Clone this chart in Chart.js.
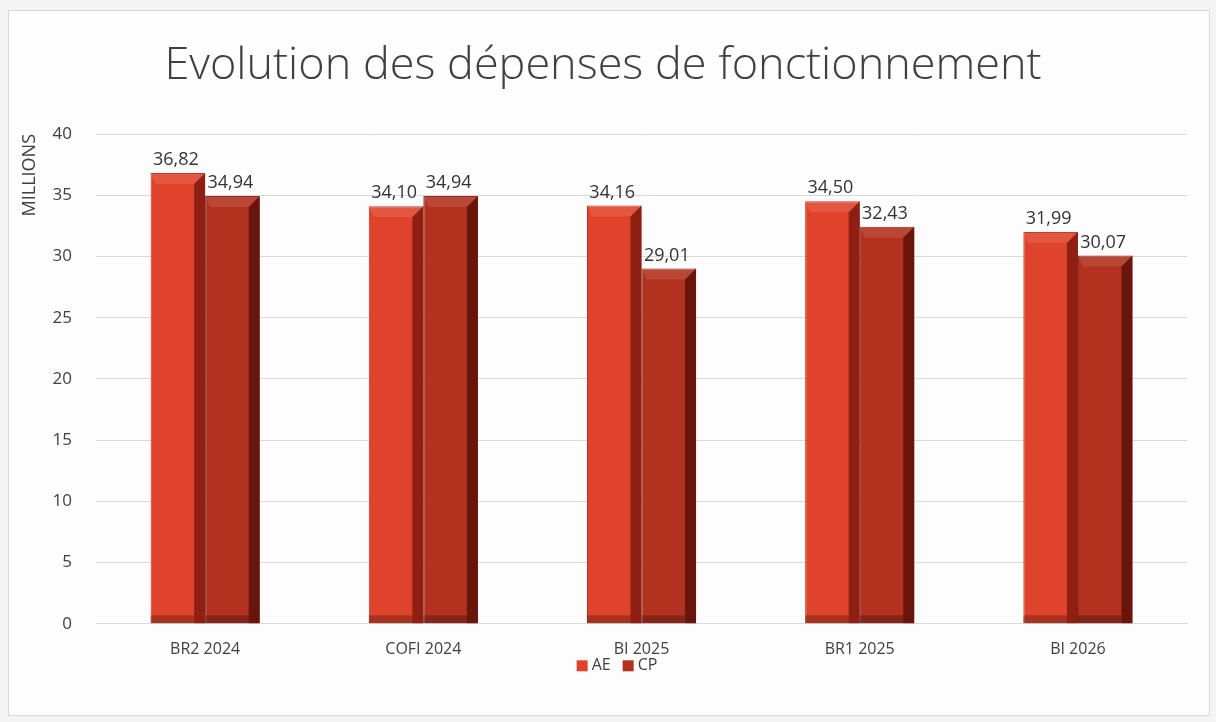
<!DOCTYPE html>
<html>
<head>
<meta charset="utf-8">
<script src="https://cdn.jsdelivr.net/npm/chart.js@4/dist/chart.umd.min.js"></script>
<style>
  html, body { margin:0; padding:0; background:#f4f4f4; }
  #wrap { position:absolute; left:8px; top:10px; width:1200px; height:704px; background:#fdfdfd; border:1px solid #d8d8d8; }
</style>
</head>
<body>
<div id="wrap"><canvas id="chart" width="1200" height="704"></canvas></div>
<script>
// data
const categories = ['BR2 2024', 'COFI 2024', 'BI 2025', 'BR1 2025', 'BI 2026'];
const aeValues = [36.82, 34.10, 34.16, 34.50, 31.99];
const cpValues = [34.94, 34.94, 29.01, 32.43, 30.07];
const yTicks = [0, 5, 10, 15, 20, 25, 30, 35, 40];

const aeColor = '#e0432b';
const cpColor = '#b3311f';
const aeSide = '#8e1f12';
const cpSide = '#6a150c';
const font = '"Open Sans", sans-serif';

const fmt = v => v.toFixed(2).replace('.', ',');

// fake 3D look: darker right side + bottom strip on each bar
const bevel = {
  id: 'bevel',
  afterDatasetsDraw(chart){
    const ctx = chart.ctx;
    chart.data.datasets.forEach((ds, di) => {
      const meta = chart.getDatasetMeta(di);
      meta.data.forEach(bar => {
        const left = bar.x - bar.width/2, right = bar.x + bar.width/2;
        const side = 11;
        ctx.save();
        ctx.fillStyle = di === 0 ? aeSide : cpSide;
        ctx.beginPath();
        ctx.moveTo(right - side, bar.y + side);
        ctx.lineTo(right, bar.y);
        ctx.lineTo(right, bar.base);
        ctx.lineTo(right - side, bar.base);
        ctx.closePath();
        ctx.fill();
        ctx.fillStyle = 'rgba(255,255,255,0.10)';
        ctx.beginPath();
        ctx.moveTo(left, bar.y);
        ctx.lineTo(right, bar.y);
        ctx.lineTo(right - side, bar.y + side);
        ctx.lineTo(left + 5, bar.y + side);
        ctx.closePath();
        ctx.fill();
        ctx.fillStyle = 'rgba(0,0,0,0.25)';
        ctx.fillRect(left, bar.base - 8, bar.width - side, 8);
        ctx.restore();
      });
    });
  }
};

const valueLabels = {
  id: 'valueLabels',
  afterDatasetsDraw(chart){
    const ctx = chart.ctx;
    ctx.save();
    ctx.font = '18px ' + font;
    ctx.fillStyle = '#333333';
    ctx.textAlign = 'center';
    ctx.textBaseline = 'bottom';
    chart.data.datasets.forEach((ds, di) => {
      chart.getDatasetMeta(di).data.forEach((bar, i) => {
        ctx.fillText(fmt(ds.data[i]), bar.x - 2, bar.y - 4);
      });
    });
    ctx.restore();
  }
};

// small legend drawn just under the category labels
const bottomLegend = {
  id: 'bottomLegend',
  afterDraw(chart){
    const ctx = chart.ctx;
    const items = chart.data.datasets.map(d => ({ text: d.label, color: d.backgroundColor }));
    ctx.save();
    ctx.font = '16px ' + font;
    ctx.textBaseline = 'middle';
    const box = 11, gap = 4, spacing = 12;
    let total = 0;
    items.forEach(it => { total += box + gap + ctx.measureText(it.text).width; });
    total += spacing * (items.length - 1);
    let x = chart.width / 2 + 8 - total / 2;
    const y = chart.chartArea.bottom + 42;
    items.forEach(it => {
      ctx.fillStyle = it.color;
      ctx.fillRect(x, y - box/2, box, box);
      ctx.fillStyle = '#404040';
      ctx.fillText(it.text, x + box + gap, y);
      x += box + gap + ctx.measureText(it.text).width + spacing;
    });
    ctx.restore();
  }
};

new Chart(document.getElementById('chart'), {
  type: 'bar',
  data: {
    labels: categories,
    datasets: [
      { label: 'AE', data: aeValues, backgroundColor: aeColor, borderColor: '#b52a18', borderWidth: 1 },
      { label: 'CP', data: cpValues, backgroundColor: cpColor, borderColor: '#7a1a0f', borderWidth: 1 }
    ]
  },
  options: {
    responsive: false,
    animation: false,
    layout: { padding: { left: 10, right: 22, top: 10, bottom: 48 } },
    datasets: { bar: { categoryPercentage: 0.5, barPercentage: 1.0 } },
    plugins: {
      title: {
        display: true,
        text: 'Evolution des dépenses de fonctionnement',
        color: '#404040',
        font: { family: font, size: 45, weight: 300 },
        padding: { top: 18, bottom: 41 }
      },
      legend: { display: false },
      tooltip: { enabled: false }
    },
    scales: {
      x: {
        grid: { display: false },
        border: { color: '#d9d9d9' },
        ticks: { color: '#404040', font: { family: font, size: 16 }, padding: 8 }
      },
      y: {
        min: 0, max: 40,
        afterBuildTicks: s => { s.ticks = yTicks.map(v => ({ value: v })); },
        grid: { color: '#d9d9d9', drawTicks: false },
        border: { display: false },
        ticks: { color: '#404040', font: { family: font, size: 17 }, padding: 24 },
        title: { display: true, text: 'MILLIONS', align: 'end', color: '#404040', font: { family: font, size: 18 }, padding: { top: 0, bottom: -12 } }
      }
    }
  },
  plugins: [bevel, valueLabels, bottomLegend]
});
</script>
</body>
</html>
